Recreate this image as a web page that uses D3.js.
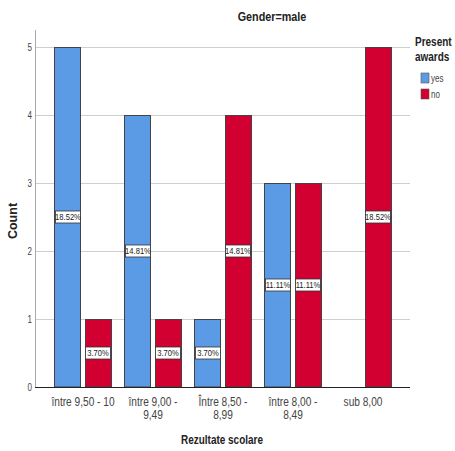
<!DOCTYPE html>
<html>
<head>
<meta charset="utf-8">
<script src="https://cdn.jsdelivr.net/npm/d3@7"></script>
<style>
  html, body { margin: 0; padding: 0; background: #fff; }
  svg { display: block; }
  text { font-family: "Liberation Sans", Arial, sans-serif; }
  .bold { font-weight: bold; }
</style>
</head>
<body>
<svg id="chart" width="455" height="451"></svg>
<script>
// Results categories (two-line tick labels)
const categories = ["între 9,50 - 10", "între 9,00 - 9,49", "Între 8,50 - 8,99", "între 8,00 - 8,49", "sub 8,00"];
const categoryLines = [["între 9,50 - 10"], ["între 9,00  -", "9,49"], ["Între 8,50 -", "8,99"], ["între 8,00 -", "8,49"], ["sub 8,00"]];
const seriesNames = ["yes", "no"];
const yesCounts = [5, 4, 1, 3, 0];
const noCounts = [1, 1, 4, 3, 5];
const yTicks = [0, 1, 2, 3, 4, 5];
const colors = { yes: "#5b9be6", no: "#d20030" };

const total = d3.sum(yesCounts) + d3.sum(noCounts);

const svg = d3.select("#chart");
const plot = { left: 35, right: 410, top: 30, bottom: 387 };

const x = d3.scaleBand().domain(categories).range([48, 398]).padding(0);
const xInner = d3.scaleBand().domain(seriesNames).range([6, 64]).paddingInner(0.1).paddingOuter(0);
const y = d3.scaleLinear().domain([0, 5]).range([plot.bottom, 47]);

// Condensed text helper: places a text at (px, py) with horizontal squeeze
function narrowText(sel, px, py, sx) {
  return sel.append("text").attr("transform", `translate(${px},${py}) scale(${sx},1)`);
}

// Gridlines
svg.append("g").selectAll("line").data(yTicks.filter(t => t > 0)).join("line")
  .attr("x1", plot.left).attr("x2", plot.right)
  .attr("y1", d => Math.round(y(d)) + 0.5).attr("y2", d => Math.round(y(d)) + 0.5)
  .attr("stroke", "#cfcfcf").attr("stroke-width", 1);

// Y axis labels
svg.append("g").selectAll("text").data(yTicks).join("text")
  .attr("transform", d => `translate(32,${y(d)}) scale(0.8,1)`)
  .attr("text-anchor", "end").attr("dy", "0.35em")
  .attr("font-size", 10).attr("fill", "#444")
  .text(d3.format("d"));
svg.append("line").attr("x1", plot.left + 0.5).attr("x2", plot.left + 0.5)
  .attr("y1", plot.top).attr("y2", plot.bottom).attr("stroke", "#aaa");

// Bars
const rows = [];
categories.forEach((c, i) => {
  rows.push({ cat: c, series: "yes", value: yesCounts[i] });
  rows.push({ cat: c, series: "no", value: noCounts[i] });
});
const visible = rows.filter(r => r.value > 0);

svg.append("g").selectAll("rect").data(visible).join("rect")
  .attr("x", d => Math.round(x(d.cat) + xInner(d.series)) + 0.5)
  .attr("y", d => Math.round(y(d.value)) + 0.5)
  .attr("width", Math.round(xInner.bandwidth()) - 1)
  .attr("height", d => Math.round(y(0)) - Math.round(y(d.value)) - 0.5)
  .attr("fill", d => colors[d.series])
  .attr("stroke", "#444").attr("stroke-width", 1);

// X axis line
svg.append("line").attr("x1", plot.left).attr("x2", plot.right)
  .attr("y1", plot.bottom + 0.5).attr("y2", plot.bottom + 0.5)
  .attr("stroke", "#222").attr("stroke-width", 1);

// Percentage labels
const lab = svg.append("g").selectAll("g").data(visible).join("g")
  .attr("transform", d => `translate(${Math.round(x(d.cat) + xInner(d.series) + xInner.bandwidth() / 2)},${Math.round((y(d.value) + y(0)) / 2)})`);
lab.append("rect").attr("x", -12.5).attr("y", -6).attr("width", 25).attr("height", 12)
  .attr("fill", "#fff").attr("stroke", "#333").attr("stroke-width", 0.8);
lab.append("text").attr("transform", "scale(0.8,1)").attr("font-size", 9.5).attr("fill", "#222")
  .attr("text-anchor", "middle").attr("dy", "0.35em")
  .text(d => (d.value / total * 100).toFixed(2) + "%");

// X tick labels
categories.forEach((c, i) => {
  const cx = x(c) + x.bandwidth() / 2;
  categoryLines[i].forEach((line, j) => {
    narrowText(svg, cx, 406 + j * 13, 0.78)
      .attr("font-size", 13).attr("fill", "#444").attr("text-anchor", "middle")
      .text(line);
  });
});

// Titles
narrowText(svg, 272, 21, 0.9).attr("class", "bold").attr("font-size", 12).attr("fill", "#222")
  .attr("text-anchor", "middle").text("Gender=male");
narrowText(svg, 222, 444, 0.83).attr("class", "bold").attr("font-size", 12).attr("fill", "#222")
  .attr("text-anchor", "middle").text("Rezultate scolare");
svg.append("text").attr("class", "bold").attr("font-size", 12.5).attr("fill", "#222")
  .attr("transform", "translate(17,221) rotate(-90)").attr("text-anchor", "middle").text("Count");

// Legend
const legend = svg.append("g");
narrowText(legend, 415, 46, 0.74).attr("class", "bold").attr("font-size", 13.5).attr("fill", "#222").text("Present");
narrowText(legend, 415, 61, 0.74).attr("class", "bold").attr("font-size", 13.5).attr("fill", "#222").text("awards");
const li = legend.selectAll("g.item").data(seriesNames).join("g").attr("class", "item")
  .attr("transform", (d, i) => `translate(421,${73 + i * 16})`);
li.append("rect").attr("width", 8).attr("height", 10).attr("fill", d => colors[d])
  .attr("stroke", "#555").attr("stroke-width", 0.6);
li.append("text").attr("transform", "translate(10,9) scale(0.8,1)")
  .attr("font-size", 10).attr("fill", "#444").text(d => d);
</script>
</body>
</html>
